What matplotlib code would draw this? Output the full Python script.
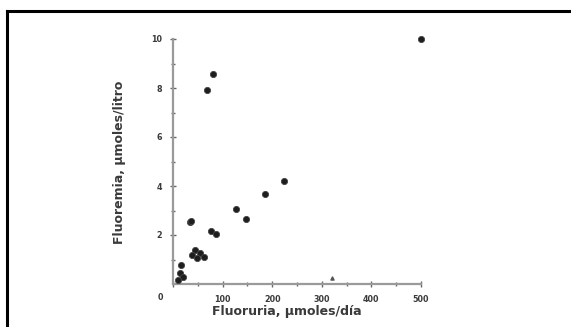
import matplotlib
matplotlib.use("Agg")
import matplotlib.pyplot as plt
from matplotlib.lines import Line2D

# Data
fluoruria = [500, 80, 68, 35, 36, 224, 185, 127, 147, 77, 87,
             44, 54, 62, 38, 48, 17, 14, 21, 11]
fluoremia = [10.0, 8.56, 7.93, 2.52, 2.58, 4.19, 3.66, 3.06, 2.64, 2.18, 2.04,
             1.39, 1.25, 1.10, 1.18, 1.05, 0.78, 0.44, 0.30, 0.16]
small_x = [320]
small_y = [0.23]

x_major = [0, 100, 200, 300, 400, 500]
x_labels = ["0", "100", "200", "300", "400", "500"]
y_major = [2, 4, 6, 8, 10]
y_labels = ["2", "4", "6", "8", "10"]

fig = plt.figure(figsize=(5.71, 3.27), dpi=100)
ax = fig.add_axes([173/571, 1-284/327, (421-173)/571, (284-39)/327])

ax.scatter(fluoruria, fluoremia, s=20, c="#1e1e1e", edgecolors="#444444",
           linewidths=0.6, clip_on=False, zorder=3)
ax.scatter(small_x, small_y, s=5, marker="^", c="#555555", clip_on=False, zorder=3)

ax.set_xlim(0, 500)
ax.set_ylim(0, 10)
for s in ["top", "right"]:
    ax.spines[s].set_visible(False)
for s in ["left", "bottom"]:
    ax.spines[s].set_color("#9a9a9a")
    ax.spines[s].set_linewidth(1.6)

ax.set_xticks(x_major)
ax.set_xticklabels([""] + x_labels[1:])
ax.set_xticks([50, 150, 250, 350, 450], minor=True)
ax.set_yticks(y_major)
ax.set_yticklabels(y_labels)
ax.set_yticks([1, 3, 5, 7, 9], minor=True)
ax.tick_params(axis="both", which="both", direction="inout", length=4,
               width=1.0, color="#666666", labelsize=5.8, labelcolor="#3a3a3a",
               pad=6)
ax.tick_params(axis="both", which="minor", length=3)
for lbl in ax.get_xticklabels() + ax.get_yticklabels():
    lbl.set_fontweight("bold")

fig.text(160/571, 1-297/327, "0", fontsize=5.8, color="#3a3a3a",
         fontweight="bold", ha="center", va="center")

fig.text(287/571, 1-312/327, "Fluoruria, μmoles/día", fontsize=9,
         fontweight="bold", color="#3a3a3a", ha="center", va="center")
fig.text(120/571, 1-162/327, "Fluoremia, μmoles/litro", fontsize=9,
         fontweight="bold", color="#3a3a3a", ha="center", va="center", rotation=90)

# Scan frame (top and left edges)
fig.add_artist(Line2D([7/571, 7/571], [0, 1-11/327], transform=fig.transFigure,
                      color="black", linewidth=2.2))
fig.add_artist(Line2D([7/571, 1], [1-11/327, 1-11/327], transform=fig.transFigure,
                      color="black", linewidth=2.2))

fig.savefig("out.png", dpi=100)
